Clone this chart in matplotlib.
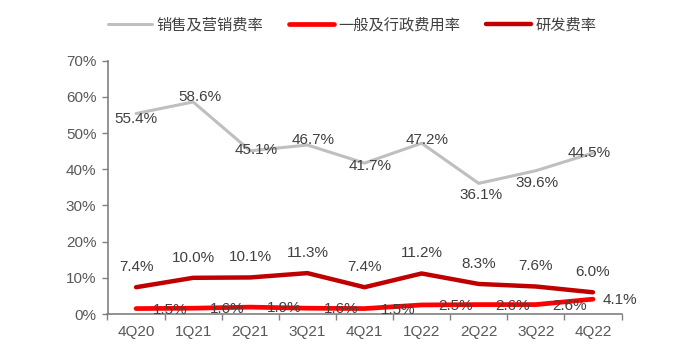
import numpy as np
import matplotlib
matplotlib.use("Agg")
import matplotlib.pyplot as plt
from matplotlib.ticker import FuncFormatter, FixedLocator

plt.rcParams['font.family'] = ['Liberation Sans', 'Noto Sans CJK SC', 'DejaVu Sans']

# quarterly expense ratios (%)
quarters = ['4Q20', '1Q21', '2Q21', '3Q21', '4Q21', '1Q22', '2Q22', '3Q22', '4Q22']
selling = [55.4, 58.6, 45.1, 46.7, 41.7, 47.2, 36.1, 39.6, 44.5]
admin = [1.5, 1.6, 1.9, 1.6, 1.5, 2.5, 2.6, 2.6, 4.1]
rnd = [7.4, 10.0, 10.1, 11.3, 7.4, 11.2, 8.3, 7.6, 6.0]
names = ['销售及营销费率', '一般及行政费用率', '研发费率']

# label nudges in pixels for the grey series
sell_off = [(0, -5), (7, 5), (6, 1), (6, 5), (6, -3), (6, 3), (2, -12), (1, -12), (-4, 0)]

txt = '#404040'
fig = plt.figure(figsize=(6.98, 3.64), dpi=100)
ax = fig.add_axes([107.5/698, 50/364, 514/698, 253.3/364])

x = np.arange(len(quarters))
ax.plot(x, selling, color='#bfbfbf', lw=2.2, solid_capstyle='round', label=names[0])
ax.plot(x, admin, color='#ff0000', lw=3.4, solid_capstyle='round', label=names[1])
ax.plot(x, rnd, color='#c00000', lw=3.2, solid_capstyle='round', label=names[2])

for i, v in enumerate(selling):
    ax.annotate(f'{v:.1f}%', (x[i], v), xytext=sell_off[i], textcoords='offset pixels',
                ha='center', va='center', fontsize=11, color=txt)
for i, v in enumerate(rnd):
    ax.annotate(f'{v:.1f}%', (x[i], v), xytext=(0, 20), textcoords='offset pixels',
                ha='center', va='center', fontsize=11, color=txt)
for i, v in enumerate(admin):
    dx = 27 if i == len(admin) - 1 else 34
    ax.annotate(f'{v:.1f}%', (x[i], v), xytext=(dx, -1), textcoords='offset pixels',
                ha='center', va='center', fontsize=11, color=txt, annotation_clip=False)

ax.set_xlim(-0.5, len(quarters) - 0.5)
ax.set_ylim(0, 70)
ax.set_yticks(np.arange(0, 71, 10))
ax.yaxis.set_major_formatter(FuncFormatter(lambda v, p: f'{v:.0f}%'))
ax.set_xticks(x)
ax.set_xticklabels(quarters)
ax.xaxis.set_minor_locator(FixedLocator(np.arange(-0.5, len(quarters), 1)))
ax.tick_params(axis='x', which='major', length=0, pad=8, labelsize=11, labelcolor='#595959')
ax.tick_params(axis='x', which='minor', length=4, width=1, color='#808080', direction='out')
ax.tick_params(axis='y', length=4, width=1, color='#808080', pad=4, labelsize=11, labelcolor='#595959')

for s in ['top', 'right']:
    ax.spines[s].set_visible(False)
for s in ['left', 'bottom']:
    ax.spines[s].set_color('#808080')
    ax.spines[s].set_linewidth(1.2)

fig.legend(loc='center', bbox_to_anchor=(352/698, 1 - 25/364), ncol=3, frameon=False,
           fontsize=11, handlelength=2.9, handletextpad=0.3, columnspacing=1.7,
           labelcolor=txt, borderaxespad=0)

plt.savefig('out.png', dpi=100)
